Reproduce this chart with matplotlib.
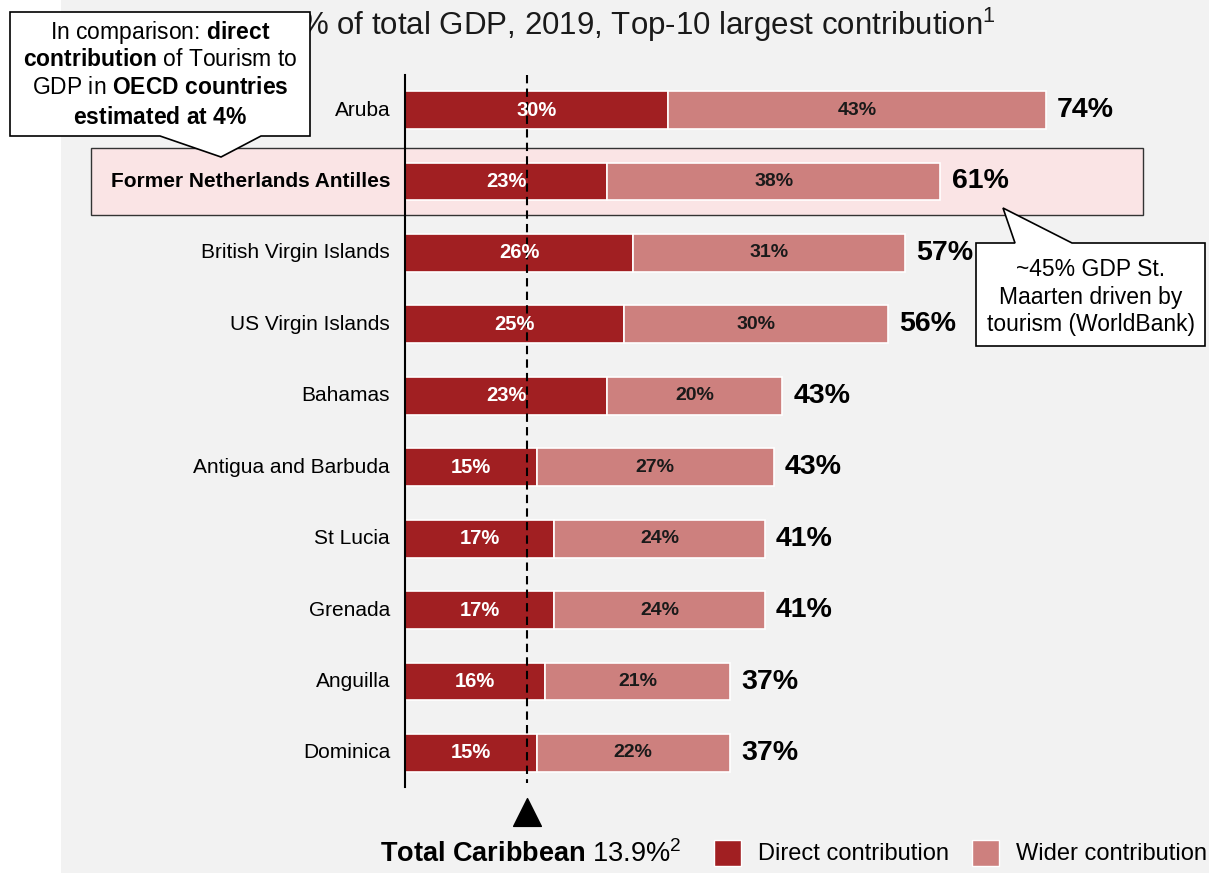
"""
Travel & tourism contribution to GDP, top-10 Caribbean economies (2019).

Stacked horizontal bars: direct + wider contribution, with the Caribbean
average marked as a dashed reference line.
"""

import matplotlib.pyplot as plt
from matplotlib.patches import Polygon, Rectangle

plt.rcParams["font.family"] = ["Liberation Sans", "DejaVu Sans"]
plt.rcParams["mathtext.fontset"] = "custom"
plt.rcParams["mathtext.rm"] = "Liberation Sans"
plt.rcParams["mathtext.bf"] = "Liberation Sans:bold"
plt.rcParams["mathtext.it"] = "Liberation Sans:italic"

COUNTRIES = [
    "Aruba",
    "Former Netherlands Antilles",
    "British Virgin Islands",
    "US Virgin Islands",
    "Bahamas",
    "Antigua and Barbuda",
    "St Lucia",
    "Grenada",
    "Anguilla",
    "Dominica",
]
DIRECT = [30, 23, 26, 25, 23, 15, 17, 17, 16, 15]
WIDER = [43, 38, 31, 30, 20, 27, 24, 24, 21, 22]
TOTAL = [74, 61, 57, 56, 43, 43, 41, 41, 37, 37]
HIGHLIGHT = "Former Netherlands Antilles"
CARIBBEAN_DIRECT = 13.9

DIRECT_COLOR = "#A11F22"
WIDER_COLOR = "#CD807E"
BG_COLOR = "#F2F2F2"
HIGHLIGHT_COLOR = "#FAE4E5"

W, H = 1209, 874


def fx(x):
    return x / W


def fy(y):
    return 1 - y / H


def callout(fig, pts):
    """Speech-bubble outline given in pixel coordinates."""
    poly = Polygon(
        [(fx(x), fy(y)) for x, y in pts],
        closed=True,
        transform=fig.transFigure,
        facecolor="white",
        edgecolor="black",
        linewidth=1.2,
        zorder=5,
    )
    fig.add_artist(poly)


def main() -> None:
    fig = plt.figure(figsize=(W / 100, H / 100), dpi=100)
    fig.patch.set_facecolor("white")

    # grey slide panel and highlighted row band
    fig.add_artist(Rectangle((fx(61), fy(873)), 1 - fx(61), 873 / H,
                             transform=fig.transFigure, facecolor=BG_COLOR,
                             edgecolor="none", zorder=-3))
    fig.add_artist(Rectangle((fx(91), fy(215)), fx(1143) - fx(91), 67 / H,
                             transform=fig.transFigure, facecolor=HIGHLIGHT_COLOR,
                             edgecolor="#333333", linewidth=1.0, zorder=-2))

    ax = fig.add_axes([fx(405), fy(787), 1 - fx(405), (787 - 75) / H])
    ax.set_zorder(0)
    ax.patch.set_visible(False)
    ax.set_xlim(0, 91.6)
    ax.set_ylim(9.476, -0.49)
    ax.axis("off")

    y = list(range(len(COUNTRIES)))
    ax.barh(y, DIRECT, height=0.53, color=DIRECT_COLOR, edgecolor="white",
            linewidth=1.2, zorder=3)
    ax.barh(y, WIDER, left=DIRECT, height=0.53, color=WIDER_COLOR,
            edgecolor="white", linewidth=1.2, zorder=3)

    ax.axvline(0, color="black", linewidth=1.5, clip_on=False, zorder=4)
    ax.plot([CARIBBEAN_DIRECT, CARIBBEAN_DIRECT], [-0.49, 9.42], color="black",
            linewidth=1.5, linestyle=(0, (4, 2.5)), zorder=4)
    ax.scatter([CARIBBEAN_DIRECT], [9.826], marker="^", s=400, color="black",
               clip_on=False, zorder=4)

    for i, (name, d, w, t) in enumerate(zip(COUNTRIES, DIRECT, WIDER, TOTAL)):
        ax.text(-1.7, i, name, ha="right", va="center", fontsize=15,
                fontweight="bold" if name == HIGHLIGHT else "normal")
        ax.text(d / 2, i, f"{d}%", ha="center", va="center", fontsize=14.5,
                fontweight="bold", color="white", zorder=5)
        ax.text(d + w / 2, i, f"{w}%", ha="center", va="center", fontsize=14,
                fontweight="bold", color="#1A1A1A", zorder=5)
        ax.annotate(f"{t}%", xy=(d + w, i), xytext=(8, 0),
                    textcoords="offset points", ha="left", va="center",
                    fontsize=20.5, fontweight="bold")

    fig.text(fx(300), fy(25), "% of total GDP, 2019, Top-10 largest contribution$^1$",
             fontsize=22.5, ha="left", va="center", color="#1A1A1A", zorder=1)

    # OECD comparison bubble
    callout(fig, [(10, 12), (310, 12), (310, 136), (261, 136), (221, 157),
                  (160, 136), (10, 136)])
    oecd_lines = [
        "In comparison: $\\mathbf{direct}$",
        "$\\mathbf{contribution}$ of Tourism to",
        "GDP in $\\mathbf{OECD\\ countries}$",
        "$\\mathbf{estimated\\ at\\ 4\\%}$",
    ]
    for line, ly in zip(oecd_lines, [32, 60, 88, 117]):
        fig.text(fx(160), fy(ly), line, fontsize=16.5, ha="center",
                 va="center", zorder=6)

    # St. Maarten bubble
    callout(fig, [(976, 243), (1015, 243), (1003, 208), (1072, 243),
                  (1205, 243), (1205, 346), (976, 346)])
    for line, ly in zip(["~45% GDP St.", "Maarten driven by",
                         "tourism (WorldBank)"], [269, 297, 325]):
        fig.text(fx(1091), fy(ly), line, fontsize=16.5, ha="center",
                 va="center", zorder=6)

    # footer: Caribbean average and legend
    fig.text(fx(380), fy(854),
             f"$\\mathbf{{Total\\ Caribbean}}$ {CARIBBEAN_DIRECT}%$^2$",
             fontsize=19.5, ha="left", va="center")
    for x0, color, label in [(714, DIRECT_COLOR, "Direct contribution"),
                             (972, WIDER_COLOR, "Wider contribution")]:
        fig.add_artist(Rectangle((fx(x0), fy(866)), 27 / W, 26 / H,
                                 transform=fig.transFigure, facecolor=color,
                                 edgecolor="white", linewidth=1.0))
        fig.text(fx(x0 + 44), fy(854), label, fontsize=17, ha="left",
                 va="center")

    fig.savefig("out.png", dpi=100, facecolor=fig.get_facecolor())
    plt.close(fig)


if __name__ == "__main__":
    main()
